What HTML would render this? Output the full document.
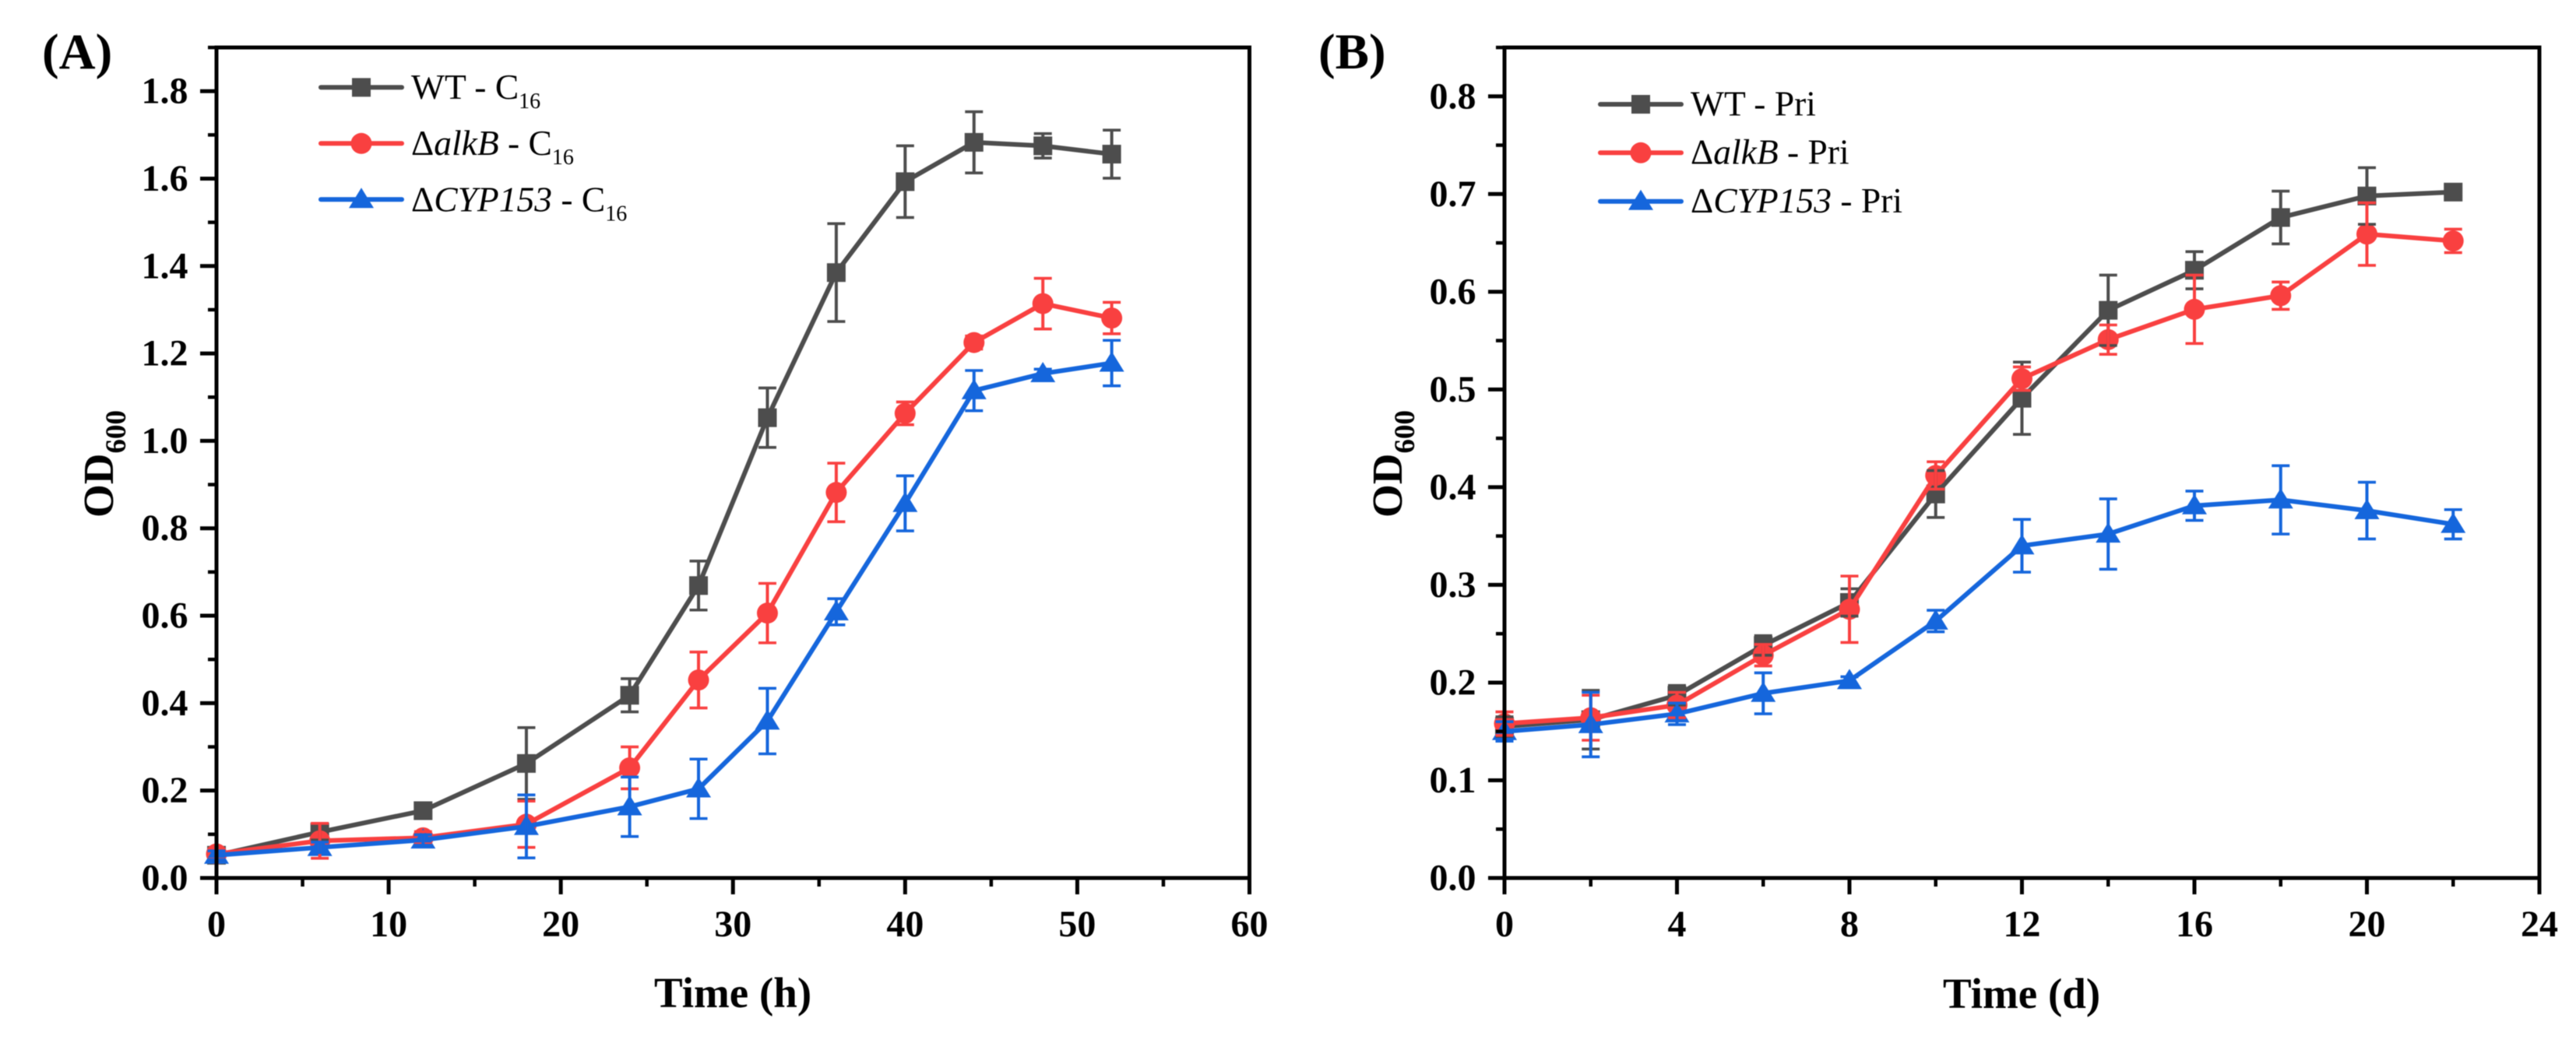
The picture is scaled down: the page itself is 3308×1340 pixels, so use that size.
<!DOCTYPE html>
<html lang="en">
<head>
<meta charset="utf-8">
<title>Growth curves</title>
<style>
html,body{margin:0;padding:0;background:#fff;width:3308px;height:1340px;overflow:hidden}
svg{display:block;filter:blur(.6px)}
text{font-family:"Liberation Serif","Times New Roman",serif;fill:#000}
</style>
</head>
<body>
<svg id="figure" xmlns="http://www.w3.org/2000/svg" width="3308" height="1340" viewBox="0 0 3308 1340">
  <rect x="0" y="0" width="3308" height="1340" fill="#ffffff"/>
  <text x="54" y="88" font-size="65" font-weight="bold">(A)</text>
  <text x="1693" y="88" font-size="65" font-weight="bold">(B)</text>
  <text x="840" y="1294" font-size="55" font-weight="bold">Time (h)</text>
  <text x="2495" y="1295" font-size="55" font-weight="bold">Time (d)</text>
  <text transform="translate(145,665) rotate(-90)" font-size="55" font-weight="bold">OD<tspan font-size="37" dy="16">600</tspan></text>
  <text transform="translate(1800,665) rotate(-90)" font-size="55" font-weight="bold">OD<tspan font-size="37" dy="16">600</tspan></text>

  <text x="528" y="127" font-size="45.5">WT - C<tspan font-size="28" dy="12">16</tspan></text>
  <text x="528" y="199" font-size="45.5">Δ<tspan font-style="italic">alkB</tspan> - C<tspan font-size="28" dy="12">16</tspan></text>
  <text x="528" y="271.5" font-size="45.5">Δ<tspan font-style="italic">CYP153</tspan> - C<tspan font-size="28" dy="12">16</tspan></text>
  <text x="2171" y="148.5" font-size="45.5">WT - Pri</text>
  <text x="2171" y="210.5" font-size="45.5">Δ<tspan font-style="italic">alkB</tspan> - Pri</text>
  <text x="2171" y="273" font-size="45.5">Δ<tspan font-style="italic">CYP153</tspan> - Pri</text>
  <g id="plots"></g>
</svg>
<script>
// ---- Panel A data (Time in hours, OD600) ----
const timeA = [0, 6, 12, 18, 24, 28, 32, 36, 40, 44, 48, 52];
const wtA   = [0.052, 0.105, 0.154, 0.262, 0.418, 0.669, 1.053, 1.385, 1.593, 1.683, 1.675, 1.656];
const wtAErr= [0.010, 0.018, 0.012, 0.082, 0.038, 0.056, 0.068, 0.112, 0.082, 0.070, 0.028, 0.055];
const alkA  = [0.055, 0.085, 0.092, 0.123, 0.252, 0.453, 0.606, 0.882, 1.063, 1.225, 1.314, 1.281];
const alkAErr=[0.012, 0.040, 0.014, 0.053, 0.048, 0.064, 0.068, 0.067, 0.026, 0.015, 0.058, 0.036];
const cypA  = [0.052, 0.070, 0.087, 0.118, 0.163, 0.204, 0.359, 0.609, 0.857, 1.115, 1.154, 1.178];
const cypAErr=[0.010, 0.012, 0.012, 0.072, 0.068, 0.068, 0.075, 0.030, 0.063, 0.046, 0.010, 0.052];
const xTicksA = [0, 10, 20, 30, 40, 50, 60];
const xMinorA = [5, 15, 25, 35, 45, 55];
const yTicksA = ["0.0", "0.2", "0.4", "0.6", "0.8", "1.0", "1.2", "1.4", "1.6", "1.8"];
const yMinorA = [0.1, 0.3, 0.5, 0.7, 0.9, 1.1, 1.3, 1.5, 1.7, 1.9];

// ---- Panel B data (Time in days, OD600) ----
const timeB = [0, 2, 4, 6, 8, 10, 12, 14, 16, 18, 20, 22];
const wtB   = [0.155, 0.162, 0.187, 0.238, 0.282, 0.393, 0.491, 0.581, 0.622, 0.676, 0.698, 0.702];
const wtBErr= [0.010, 0.030, 0.010, 0.010, 0.014, 0.024, 0.037, 0.036, 0.019, 0.027, 0.029, 0.004];
const alkB  = [0.158, 0.164, 0.177, 0.228, 0.275, 0.412, 0.511, 0.551, 0.582, 0.596, 0.659, 0.652];
const alkBErr=[0.012, 0.023, 0.013, 0.011, 0.034, 0.014, 0.012, 0.015, 0.035, 0.014, 0.032, 0.012];
const cypB  = [0.150, 0.157, 0.168, 0.189, 0.202, 0.263, 0.340, 0.352, 0.381, 0.387, 0.376, 0.362];
const cypBErr=[0.010, 0.033, 0.011, 0.021, 0.004, 0.011, 0.027, 0.036, 0.015, 0.035, 0.029, 0.015];
const xTicksB = [0, 4, 8, 12, 16, 20, 24];
const xMinorB = [2, 6, 10, 14, 18, 22];
const yTicksB = ["0.0", "0.1", "0.2", "0.3", "0.4", "0.5", "0.6", "0.7", "0.8"];
const yMinorB = [0.05, 0.15, 0.25, 0.35, 0.45, 0.55, 0.65, 0.75, 0.85];

const GRAY = "#4d4d4d", RED = "#f94040", BLUE = "#1566dc";
const NS = "http://www.w3.org/2000/svg";
const root = document.getElementById("plots");

function mk(tag, attrs, parent) {
  const el = document.createElementNS(NS, tag);
  for (const k in attrs) el.setAttribute(k, attrs[k]);
  parent.appendChild(el);
  return el;
}

function marker(kind, cx, cy, color, parent) {
  if (kind === "square") {
    return mk("rect", {x: cx - 12, y: cy - 12, width: 24, height: 24, fill: color}, parent);
  }
  if (kind === "circle") {
    return mk("circle", {cx: cx, cy: cy, r: 13.5, fill: color}, parent);
  }
  return mk("polygon", {points: (cx) + "," + (cy - 15) + " " + (cx + 16) + "," + (cy + 11) + " " + (cx - 16) + "," + (cy + 11), fill: color}, parent);
}

function drawPanel(p) {
  const sx = v => p.x0 + (v - p.xMin) * (p.x1 - p.x0) / (p.xMax - p.xMin);
  const sy = v => p.y0 - v * (p.y0 - p.y1) / p.yMax;

  const g = mk("g", {}, root);
  
  

  // series marks: lines and markers first
  p.series.forEach(s => {
    const sg = mk("g", {}, g);
    
    
    const pts = s.xs.map((x, i) => sx(x) + "," + sy(s.ys[i])).join(" ");
    const line = mk("polyline", {points: pts, fill: "none", stroke: s.color, "stroke-width": 6, "stroke-linejoin": "round"}, sg);
    
    
    s.xs.forEach((x, i) => {
      const m = marker(s.kind, sx(x), sy(s.ys[i]), s.color, sg);
      
      
    });
  });

  // error bars on top of the markers
  p.series.forEach(s => {
    s.xs.forEach((x, i) => {
      const cx = sx(x), top = sy(s.ys[i] + s.err[i]), bot = sy(s.ys[i] - s.err[i]);
      const e = mk("path", {
        d: "M" + cx + " " + top + "V" + bot,
        stroke: s.color, "stroke-width": 4, fill: "none"
      }, g);
      
      
      const c = mk("path", {
        d: "M" + (cx - 11.5) + " " + top + "H" + (cx + 11.5) + "M" + (cx - 11.5) + " " + bot + "H" + (cx + 11.5),
        stroke: s.color, "stroke-width": 3.6, fill: "none"
      }, g);
      
      
    });
  });

  // frame
  const frame = mk("path", {
    d: "M" + p.x0 + " " + p.y1 + "H" + p.x1 + "V" + p.y0 + "H" + p.x0 + "Z",
    fill: "none", stroke: "#000", "stroke-width": 5
  }, g);
  
  

  // x ticks
  p.xTicks.forEach(t => {
    const tick = mk("line", {x1: sx(t), x2: sx(t), y1: p.y0, y2: p.y0 + 21, stroke: "#000", "stroke-width": 5}, g);
    
    
    const lab = mk("text", {x: sx(t), y: p.y0 + 75, "font-size": 48, "font-weight": "bold", "text-anchor": "middle"}, g);
    lab.textContent = String(t);
    
    
  });
  p.xMinor.forEach(t => {
    const tick = mk("line", {x1: sx(t), x2: sx(t), y1: p.y0, y2: p.y0 + 11, stroke: "#000", "stroke-width": 4.5}, g);
    
    
  });

  // y ticks
  p.yTicks.forEach(t => {
    const y = sy(parseFloat(t));
    const tick = mk("line", {x1: p.x0 - 21, x2: p.x0, y1: y, y2: y, stroke: "#000", "stroke-width": 5}, g);
    
    
    const lab = mk("text", {x: p.x0 - 36.5, y: y + 15.5, "font-size": 48, "font-weight": "bold", "text-anchor": "end"}, g);
    lab.textContent = t;
    
    
  });
  p.yMinor.forEach(t => {
    const y = sy(t);
    const tick = mk("line", {x1: p.x0 - 11, x2: p.x0, y1: y, y2: y, stroke: "#000", "stroke-width": 4.5}, g);
    
    
  });

  // legend handles
  p.series.forEach((s, i) => {
    const ly = p.legendY[i];
    const lg = mk("g", {}, g);
    
    
    mk("line", {x1: p.legendX0, x2: p.legendX1, y1: ly, y2: ly, stroke: s.color, "stroke-width": 6, "stroke-linecap": "round"}, lg);
    marker(s.kind, (p.legendX0 + p.legendX1) / 2, ly, s.color, lg);
  });
}

drawPanel({
  id: "panel-a",
  x0: 278, x1: 1604.5, xMin: 0, xMax: 60,
  y0: 1128, y1: 61, yMax: 1.9,
  xTicks: xTicksA, xMinor: xMinorA, yTicks: yTicksA, yMinor: yMinorA,
  legendX0: 412, legendX1: 516, legendY: [112.3, 184.3, 256.3],
  series: [
    {key: "wt", kind: "square", color: GRAY, xs: timeA, ys: wtA, err: wtAErr},
    {key: "alkb", kind: "circle", color: RED, xs: timeA, ys: alkA, err: alkAErr},
    {key: "cyp153", kind: "triangle", color: BLUE, xs: timeA, ys: cypA, err: cypAErr}
  ]
});

drawPanel({
  id: "panel-b",
  x0: 1932, x1: 3261, xMin: 0, xMax: 24,
  y0: 1128, y1: 61, yMax: 0.85,
  xTicks: xTicksB, xMinor: xMinorB, yTicks: yTicksB, yMinor: yMinorB,
  legendX0: 2055, legendX1: 2159, legendY: [134, 196.3, 258.7],
  series: [
    {key: "wt", kind: "square", color: GRAY, xs: timeB, ys: wtB, err: wtBErr},
    {key: "alkb", kind: "circle", color: RED, xs: timeB, ys: alkB, err: alkBErr},
    {key: "cyp153", kind: "triangle", color: BLUE, xs: timeB, ys: cypB, err: cypBErr}
  ]
});
</script>
</body>
</html>
